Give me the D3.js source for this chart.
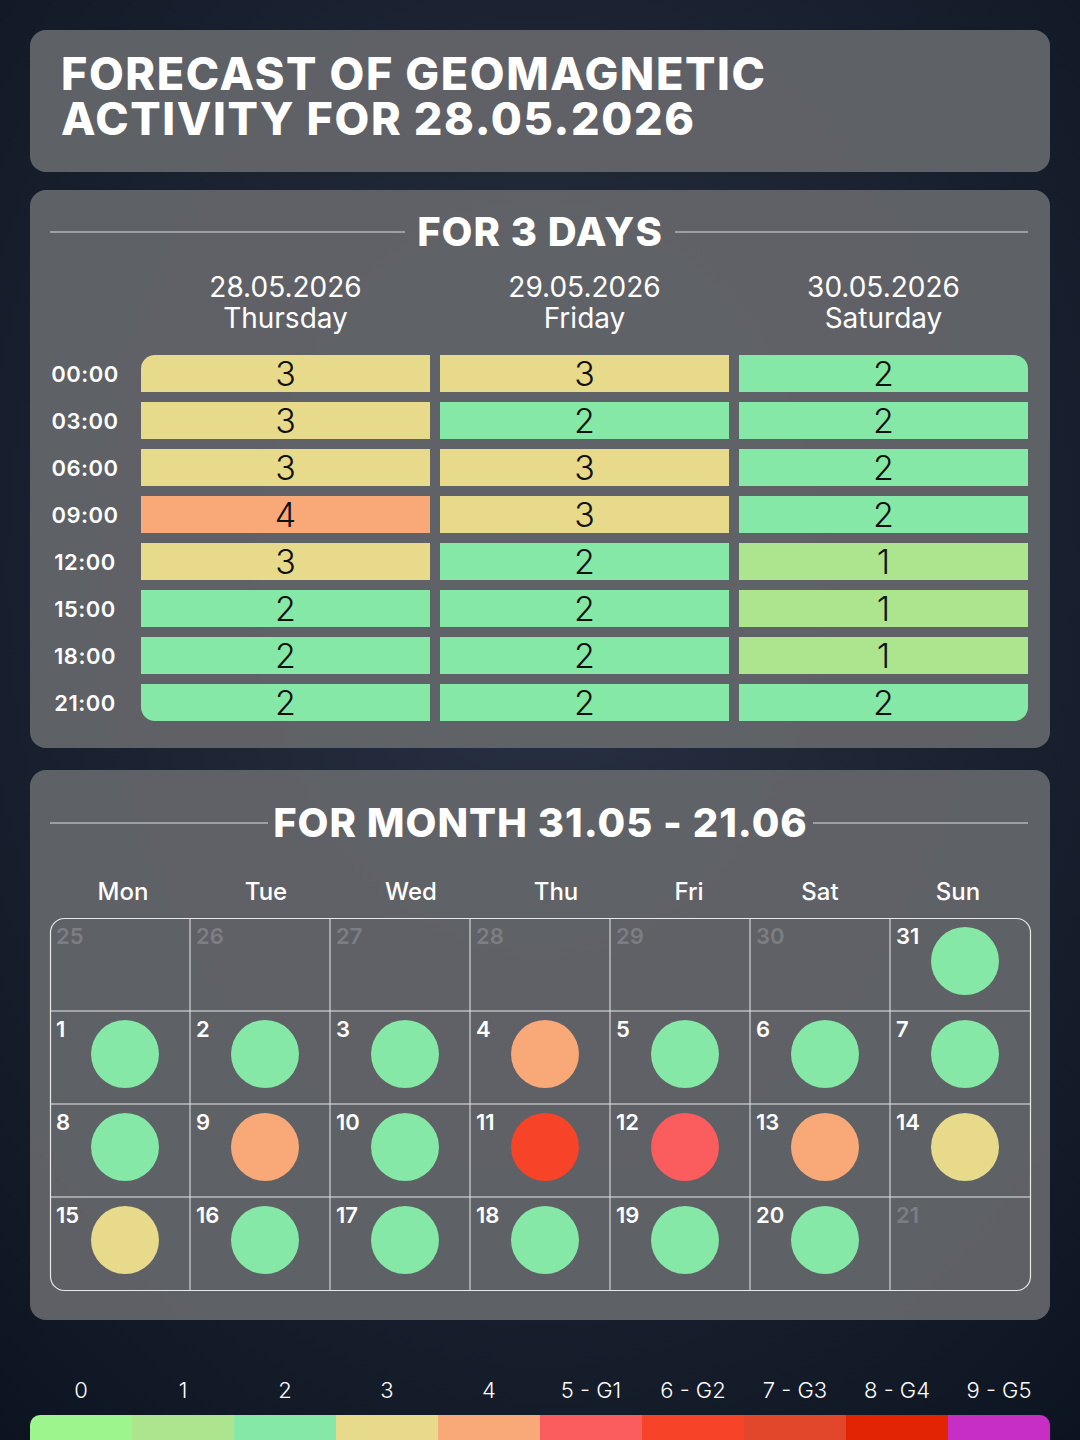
<!DOCTYPE html>
<html><head><meta charset="utf-8">
<script src="https://cdn.jsdelivr.net/npm/d3@7"></script>
<style>body{margin:0;background:#0f1724;} svg{display:block;font-family:Inter,"Open Sans",sans-serif;}</style>
</head><body>
<script>
// data
var levelColors = ["#9df58e","#ade58f","#86e8a6","#e8da8b","#f9a878","#fb5c5e","#f74328","#e2472c","#e22404","#c72fc4"];
var levelLabels = ["0","1","2","3","4","5 - G1","6 - G2","7 - G3","8 - G4","9 - G5"];
var times = ["00:00","03:00","06:00","09:00","12:00","15:00","18:00","21:00"];
var dayDates = ["28.05.2026","29.05.2026","30.05.2026"];
var dayNames = ["Thursday","Friday","Saturday"];
var day1 = [3,3,3,4,3,2,2,2];
var day2 = [3,2,3,3,2,2,2,2];
var day3 = [2,2,2,2,1,1,1,2];
var weekdays = ["Mon","Tue","Wed","Thu","Fri","Sat","Sun"];
var calDays = [25,26,27,28,29,30,31,1,2,3,4,5,6,7,8,9,10,11,12,13,14,15,16,17,18,19,20,21];
var calLevels = [null,null,null,null,null,null,2,2,2,2,4,2,2,2,2,4,2,6,5,4,3,3,2,2,2,2,2,null];

var W = 1080, H = 1440;
var svg = d3.select("body").append("svg").attr("width", W).attr("height", H);

// background
var defs = svg.append("defs");
var g0 = defs.append("radialGradient").attr("id","bg").attr("cx","50%").attr("cy","40%").attr("r","80%");
g0.append("stop").attr("offset","0%").attr("stop-color","#2a3344");
g0.append("stop").attr("offset","100%").attr("stop-color","#0c1320");
svg.append("rect").attr("width",W).attr("height",H).attr("fill","url(#bg)");

// panels
[[30,30,142],[30,190,558],[30,770,550]].forEach(function(p){
    svg.append("rect").attr("x",p[0]).attr("y",p[1]).attr("width",1020).attr("height",p[2])
        .attr("rx",16).attr("fill","#64666b").attr("opacity",0.93);
});

svg.append("text").attr("x",61).attr("y",90).attr("fill","#fff").attr("font-size",45).attr("font-weight",800)
    .attr("letter-spacing",1.6).text("FORECAST OF GEOMAGNETIC");
svg.append("text").attr("x",61).attr("y",135).attr("fill","#fff").attr("font-size",45).attr("font-weight",800)
    .attr("letter-spacing",1.6).text("ACTIVITY FOR 28.05.2026");

function sectionTitle(y, txt, x1, x2){
    svg.append("line").attr("x1",50).attr("x2",x1).attr("y1",y).attr("y2",y).attr("stroke","#ddd");
    svg.append("line").attr("x1",x2).attr("x2",1028).attr("y1",y).attr("y2",y).attr("stroke","#ddd");
    svg.append("text").attr("x",(x1+x2)/2).attr("y",y+14).attr("text-anchor","middle").attr("fill","#fff")
        .attr("font-size",40).attr("font-weight",800).attr("letter-spacing",1).text(txt);
}
sectionTitle(232, "FOR 3 DAYS", 405, 675);
sectionTitle(823, "FOR MONTH 31.05 - 21.06", 268, 813);

// 3-day grid
var x3 = d3.scaleBand().domain([0,1,2]).range([141,1028]).paddingInner(10/299).paddingOuter(0);
var y3 = d3.scaleBand().domain(d3.range(times.length)).range([355,721]).paddingInner(10/47).paddingOuter(0);
var days = [day1, day2, day3];
var bw = x3.bandwidth();

dayDates.forEach(function(d,i){
    var cx = x3(i) + bw/2;
    svg.append("text").attr("x",cx).attr("y",297).attr("text-anchor","middle").attr("fill","#fff").attr("font-size",28).text(d);
    svg.append("text").attr("x",cx).attr("y",328).attr("text-anchor","middle").attr("fill","#fff").attr("font-size",28).text(dayNames[i]);
});
times.forEach(function(t,r){
    svg.append("text").attr("x",85).attr("y",y3(r)+y3.bandwidth()/2+8).attr("text-anchor","middle")
        .attr("fill","#fff").attr("font-size",22).attr("font-weight",600).attr("letter-spacing",0.5).text(t);
});
days.forEach(function(vals,c){
    vals.forEach(function(v,r){
        var x = x3(c), y = y3(r), h = y3.bandwidth();
        var rtl = (c==0&&r==0), rtr=(c==2&&r==0), rbl=(c==0&&r==7), rbr=(c==2&&r==7);
        var rr = 14;
        var path = "M"+(x+(rtl?rr:0))+","+y+
            "H"+(x+bw-(rtr?rr:0))+(rtr?"A"+rr+","+rr+" 0 0 1 "+(x+bw)+","+(y+rr):"")+
            "V"+(y+h-(rbr?rr:0))+(rbr?"A"+rr+","+rr+" 0 0 1 "+(x+bw-rr)+","+(y+h):"")+
            "H"+(x+(rbl?rr:0))+(rbl?"A"+rr+","+rr+" 0 0 1 "+x+","+(y+h-rr):"")+
            "V"+(y+(rtl?rr:0))+(rtl?"A"+rr+","+rr+" 0 0 1 "+(x+rr)+","+y:"")+"Z";
        svg.append("path").attr("d",path).attr("fill",levelColors[v]);
        svg.append("text").attr("x",x+bw/2).attr("y",y+h/2+12).attr("text-anchor","middle")
            .attr("fill","#111").attr("font-size",34).attr("font-weight",300).text(v);
    });
});

// calendar
var xc = d3.scaleBand().domain(d3.range(7)).range([50,1030]);
var yc = d3.scaleBand().domain(d3.range(4)).range([918,1290]);
var hx = [123,266,411,556,689,820,958];
weekdays.forEach(function(w,i){
    svg.append("text").attr("x",hx[i]).attr("y",900).attr("text-anchor","middle").attr("fill","#fff")
        .attr("font-size",24).attr("font-weight",500).text(w);
});
svg.append("rect").attr("x",50.5).attr("y",918.5).attr("width",980).attr("height",372).attr("rx",14)
    .attr("fill","none").attr("stroke","#e8e8e8").attr("stroke-width",1.2);
for (var i=1;i<7;i++) svg.append("line").attr("x1",xc(i)).attr("x2",xc(i)).attr("y1",918).attr("y2",1290).attr("stroke","#e8e8e8");
for (var j=1;j<4;j++) svg.append("line").attr("x1",50).attr("x2",1030).attr("y1",yc(j)).attr("y2",yc(j)).attr("stroke","#e8e8e8");
calDays.forEach(function(d,k){
    var c = k%7, r = Math.floor(k/7);
    var x = xc(c), y = yc(r);
    var lv = calLevels[k];
    svg.append("text").attr("x",x+6).attr("y",y+26).attr("fill",lv==null?"#7c7e83":"#fff")
        .attr("font-size",22).attr("font-weight",600).text(d);
    if (lv!=null) svg.append("circle").attr("cx",x+75).attr("cy",y+43).attr("r",34).attr("fill",levelColors[lv]);
});

// legend
var xl = d3.scaleBand().domain(d3.range(10)).range([30,1050]);
svg.append("clipPath").attr("id","lc").append("rect").attr("x",30).attr("y",1415).attr("width",1020).attr("height",40).attr("rx",10);
var lg = svg.append("g").attr("clip-path","url(#lc)");
levelColors.forEach(function(col,i){
    lg.append("rect").attr("x",xl(i)).attr("y",1415).attr("width",xl.bandwidth()+0.5).attr("height",30).attr("fill",col);
    svg.append("text").attr("x",xl(i)+xl.bandwidth()/2).attr("y",1398).attr("text-anchor","middle")
        .attr("fill","#fff").attr("font-size",22).attr("font-weight",300).text(levelLabels[i]);
});
</script>
</body></html>
